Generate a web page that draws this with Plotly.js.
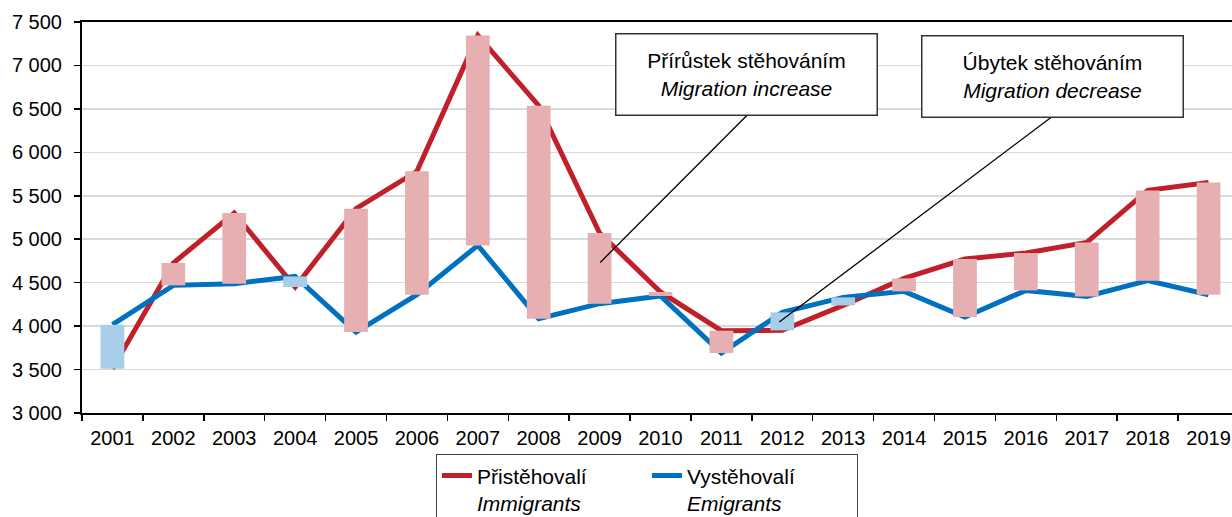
<!DOCTYPE html>
<html>
<head>
<meta charset="utf-8">
<script src="https://cdn.plot.ly/plotly-3.0.1.min.js"></script>
<style>html,body{margin:0;padding:0;background:#fff;}#chart{width:1232px;height:517px;}</style>
</head>
<body>
<div id="chart"></div>
<script>
const years = ['2001','2002','2003','2004','2005','2006','2007','2008','2009','2010','2011','2012','2013','2014','2015','2016','2017','2018','2019'];
const immigrants = [3510, 4726, 5302, 4450, 5351, 5781, 7346, 6537, 5072, 4393, 3947, 3951, 4238, 4549, 4772, 4841, 4963, 5562, 5654];
const emigrants  = [4016, 4469, 4488, 4572, 3932, 4361, 4929, 4085, 4258, 4347, 3690, 4158, 4331, 4400, 4105, 4411, 4342, 4523, 4361];
const nameImm = 'Přistěhovalí<br><i>Immigrants</i>';
const nameEmi = 'Vystěhovalí<br><i>Emigrants</i>';
const yTicks = [3000, 3500, 4000, 4500, 5000, 5500, 6000, 6500, 7000, 7500];

const RED = '#C0202A', BLUE = '#0070C0', PINK = '#E6B0B3', LBLUE = '#A7CDE8';
const FONT = 'Liberation Sans, Arial, Helvetica, sans-serif';

const base = immigrants.map((v, i) => Math.min(v, emigrants[i]));
const diff = immigrants.map((v, i) => Math.abs(v - emigrants[i]));
const barColors = immigrants.map((v, i) => v >= emigrants[i] ? PINK : LBLUE);

const xr = [-0.5, 18.385];

const data = [
  {type:'scatter', mode:'lines', x: years, y: immigrants, name: nameImm,
   line:{color:RED, width:5}, xaxis:'x', yaxis:'y', hoverinfo:'skip'},
  {type:'scatter', mode:'lines', x: years, y: emigrants, name: nameEmi,
   line:{color:BLUE, width:5}, xaxis:'x', yaxis:'y', hoverinfo:'skip'},
  {type:'bar', x: years, y: diff, base: base, width: 0.39,
   marker:{color: barColors, line:{width:0}}, showlegend:false,
   xaxis:'x2', yaxis:'y', hoverinfo:'skip'}
];

const layout = {
  width:1232, height:517,
  margin:{l:82, r:0, t:22, b:104, autoexpand:false},
  paper_bgcolor:'#fff', plot_bgcolor:'#fff',
  font:{family:FONT, size:20, color:'#000'},
  separators:', ',
  showlegend:true,
  xaxis:{type:'category', categoryarray: years, range: xr, tickson:'boundaries',
    ticks:'outside', ticklen:6, tickwidth:1.5, tickcolor:'#000', ticklabelstandoff:6,
    showline:true, linecolor:'#000', linewidth:2, mirror:true,
    showgrid:false, zeroline:false, tickfont:{size:20, family:FONT}, automargin:false},
  xaxis2:{type:'category', categoryarray: years, range: xr, overlaying:'x',
    visible:false, showgrid:false, zeroline:false},
  yaxis:{range:[3000, 7500], tickvals: yTicks, tickformat:',d', separatethousands:true,
    ticks:'outside', ticklen:6, tickwidth:1.5, tickcolor:'#000', ticklabelstandoff:8,
    showline:true, linecolor:'#000', linewidth:2,
    showgrid:true, gridcolor:'#D9D9D9', gridwidth:1.5, zeroline:false,
    tickfont:{size:20, family:FONT}, automargin:false},
  legend:{orientation:'h', x:0.3078, xanchor:'left', y:-0.106, yanchor:'top',
    bordercolor:'#404040', borderwidth:1, bgcolor:'#fff',
    font:{size:21, family:FONT}, entrywidth:165, entrywidthmode:'pixels',
    valign:'top', itemwidth:30, tracegroupgap:0},
  annotations:[
    {xref:'x', yref:'y', x:10.42, y:6897, showarrow:false,
     text:'Přírůstek stěhováním<br><i>Migration increase</i>',
     font:{size:21, family:FONT, color:'#000'}, width:258, height:78,
     bordercolor:'#333', borderwidth:1.5, bgcolor:'#fff', align:'center'},
    {xref:'x', yref:'y', x:15.44, y:6876, showarrow:false,
     text:'Úbytek stěhováním<br><i>Migration decrease</i>',
     font:{size:21, family:FONT, color:'#000'}, width:258, height:78,
     bordercolor:'#333', borderwidth:1.5, bgcolor:'#fff', align:'center'}
  ],
  shapes:[
    {type:'line', xref:'x', yref:'y', x0:10.43, y0:6433, x1:8.01, y1:4733,
     line:{color:'#000', width:1.3}, layer:'above'},
    {type:'line', xref:'x', yref:'y', x0:15.45, y0:6422, x1:10.95, y1:4047,
     line:{color:'#000', width:1.3}, layer:'above'}
  ]
};

Plotly.newPlot('chart', data, layout, {displayModeBar:false, staticPlot:true});
</script>
</body>
</html>
